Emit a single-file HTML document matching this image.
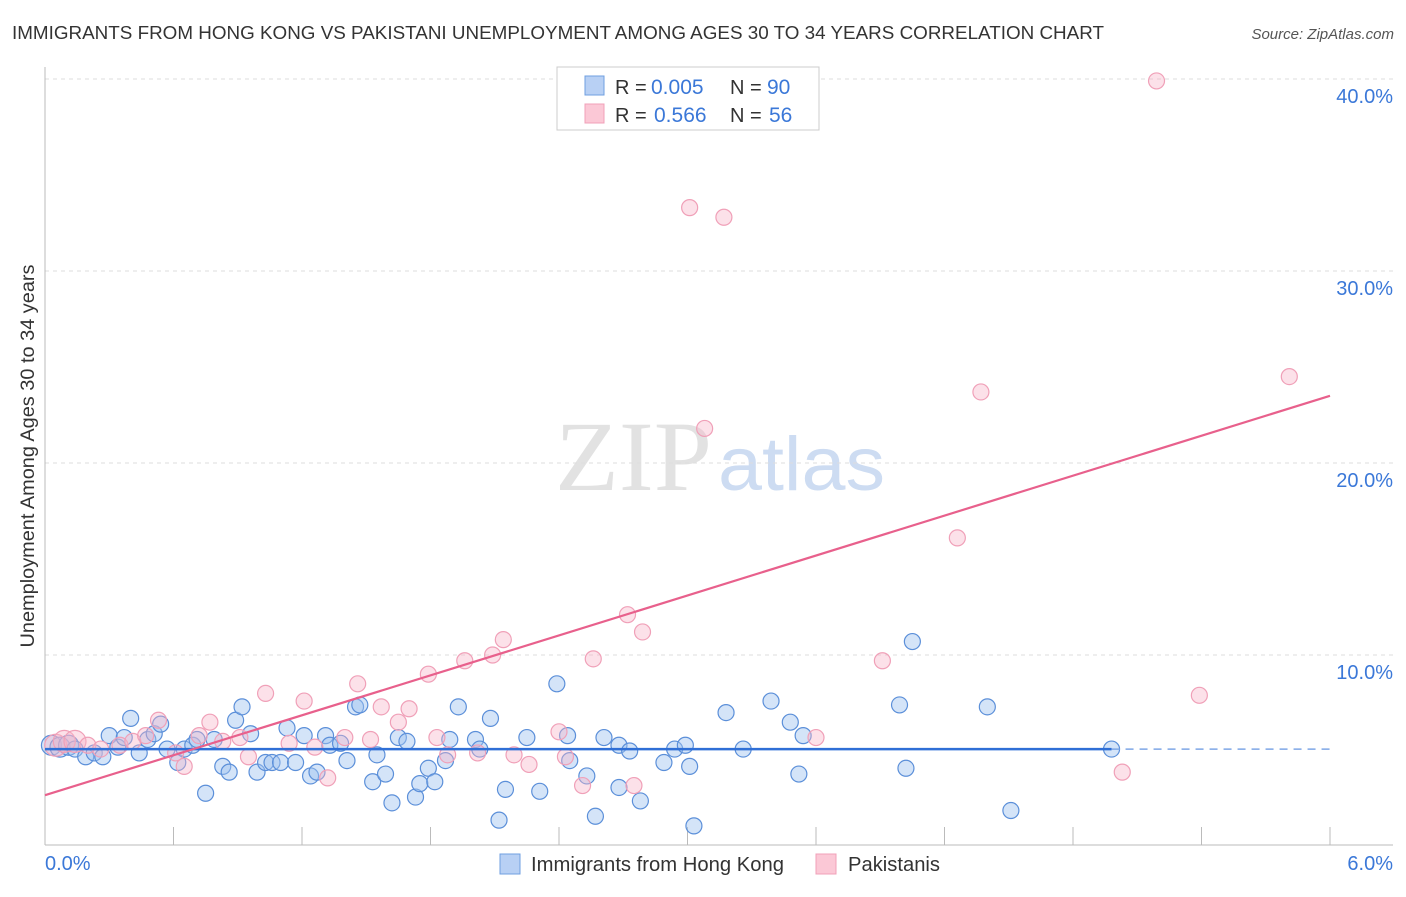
<!DOCTYPE html>
<html><head><meta charset="utf-8"><style>
body{margin:0;background:#fff;width:1406px;height:892px;overflow:hidden;font-family:"Liberation Sans",sans-serif;}
</style></head><body>
<svg id="chart" width="1406" height="892" xmlns="http://www.w3.org/2000/svg" font-family="Liberation Sans, sans-serif">
<text x="12" y="39" font-size="18.5" fill="#333" textLength="1092" lengthAdjust="spacingAndGlyphs">IMMIGRANTS FROM HONG KONG VS PAKISTANI UNEMPLOYMENT AMONG AGES 30 TO 34 YEARS CORRELATION CHART</text>
<text x="1394" y="39" font-size="15" fill="#555" text-anchor="end" font-style="italic">Source: ZipAtlas.com</text>
<g>
<text x="555" y="490" font-size="100" fill="#e2e2e2" font-family="Liberation Serif, serif" textLength="157" lengthAdjust="spacingAndGlyphs">ZIP</text>
<text x="718" y="490" font-size="76" fill="#cddcf2" textLength="167" lengthAdjust="spacingAndGlyphs">atlas</text>
</g>
<g id="grid"></g>
<g id="axes"></g>
<g id="points"></g>
<g id="lines"></g>
<text transform="translate(34,456) rotate(-90)" font-size="19" fill="#333" text-anchor="middle" textLength="383" lengthAdjust="spacingAndGlyphs">Unemployment Among Ages 30 to 34 years</text>
<g>
<rect x="557" y="67" width="262" height="63" fill="#fff" stroke="#ccc"/>
<rect x="585" y="76" width="19" height="19" fill="#b8d0f4" stroke="#6f9fe0"/>
<rect x="585" y="104" width="19" height="19" fill="#fbc8d6" stroke="#f0a0b8"/>
<text x="615" y="94" font-size="20" fill="#333">R = </text><text x="651" y="94" font-size="21" fill="#3b78d8">0.005</text>
<text x="730" y="94" font-size="20" fill="#333">N = </text><text x="767" y="94" font-size="21" fill="#3b78d8">90</text>
<text x="615" y="122" font-size="20" fill="#333">R = </text><text x="654" y="122" font-size="21" fill="#3b78d8">0.566</text>
<text x="730" y="122" font-size="20" fill="#333">N = </text><text x="769" y="122" font-size="21" fill="#3b78d8">56</text>
</g>
<g>
<rect x="500" y="854" width="20" height="20" fill="#b8d0f4" stroke="#6f9fe0"/>
<text x="531" y="871" font-size="20" fill="#333" textLength="253" lengthAdjust="spacingAndGlyphs">Immigrants from Hong Kong</text>
<rect x="816" y="854" width="20" height="20" fill="#fbc8d6" stroke="#f0a0b8"/>
<text x="848" y="871" font-size="20" fill="#333" textLength="92" lengthAdjust="spacingAndGlyphs">Pakistanis</text>
</g>
</svg>
<script>
const xTicks=[0,0.6,1.2,1.8,2.4,3.0,3.6,4.2,4.8,5.4,6.0];
const yTicks=[10,20,30,40];
const yTickLabels=["10.0%","20.0%","30.0%","40.0%"];
const xEndLabels=["0.0%","6.0%"];
const hkX=[0.03,0.07,0.11,0.14,0.19,0.23,0.27,0.30,0.34,0.37,0.40,0.44,0.48,0.51,0.54,0.57,0.62,0.65,0.69,0.71,0.75,0.79,0.83,0.86,0.89,0.92,0.96,0.99,1.03,1.06,1.10,1.13,1.17,1.21,1.24,1.27,1.31,1.33,1.38,1.41,1.45,1.47,1.53,1.55,1.59,1.62,1.65,1.69,1.73,1.75,1.79,1.82,1.87,1.89,1.93,2.01,2.03,2.08,2.12,2.15,2.25,2.31,2.39,2.44,2.45,2.53,2.57,2.61,2.68,2.68,2.73,2.78,2.89,2.94,2.99,3.01,3.03,3.18,3.26,3.39,3.48,3.52,3.54,3.99,4.02,4.05,4.40,4.51,4.98];
const hkY=[5.3,5.2,5.3,5.1,4.7,4.9,4.7,5.8,5.2,5.7,6.7,4.9,5.6,5.9,6.4,5.1,4.4,5.1,5.3,5.6,2.8,5.6,4.2,3.9,6.6,7.3,5.9,3.9,4.4,4.4,4.4,6.2,4.4,5.8,3.7,3.9,5.8,5.3,5.4,4.5,7.3,7.4,3.4,4.8,3.8,2.3,5.7,5.5,2.6,3.3,4.1,3.4,4.5,5.6,7.3,5.6,5.1,6.7,1.4,3.0,5.7,2.9,8.5,5.8,4.5,3.7,1.6,5.7,5.3,3.1,5.0,2.4,4.4,5.1,5.3,4.2,1.1,7.0,5.1,7.6,6.5,3.8,5.8,7.4,4.1,10.7,7.3,1.9,5.1];
const pkX=[0.05,0.09,0.14,0.20,0.26,0.35,0.41,0.47,0.53,0.61,0.65,0.72,0.77,0.83,0.91,0.95,1.03,1.14,1.21,1.26,1.32,1.40,1.46,1.52,1.57,1.65,1.70,1.79,1.83,1.88,1.96,2.02,2.09,2.14,2.19,2.26,2.40,2.43,2.51,2.56,2.72,2.79,3.01,3.08,3.17,3.34,3.60,3.91,4.26,4.37,5.03,5.19,5.39,5.81,2.75];
const pkY=[5.3,5.5,5.5,5.3,5.1,5.3,5.5,5.8,6.6,4.9,4.2,5.8,6.5,5.5,5.7,4.7,8.0,5.4,7.6,5.2,3.6,5.7,8.5,5.6,7.3,6.5,7.2,9.0,5.7,4.8,9.7,4.9,10.0,10.8,4.8,4.3,6.0,4.7,3.2,9.8,12.1,11.2,33.3,21.8,32.8,39.9,5.7,9.7,16.1,23.7,3.9,39.9,7.9,24.5,3.2];
const hkTrend=[5.1,5.1];const hkTrendX=[0,4.98,6.0];
const pkTrend=[2.7,23.5];

const NS="http://www.w3.org/2000/svg";
const X0=45,X1=1330,Y0=847,PY=19.2;
const sx=v=>X0+v/6*(X1-X0);
const sy=v=>Y0-v*PY;
function mk(tag,attrs,parent){const e=document.createElementNS(NS,tag);for(const k in attrs)e.setAttribute(k,attrs[k]);parent.appendChild(e);return e;}
const grid=document.getElementById('grid'),axes=document.getElementById('axes'),pts=document.getElementById('points'),lines=document.getElementById('lines');
yTicks.forEach((t,i)=>{
 const g=mk('line',{x1:45,x2:1393,y1:sy(t),y2:sy(t),stroke:'#ddd','stroke-dasharray':'4,4'},grid);
 
 
 const tx=mk('text',{x:1393,y:sy(t)+24,'font-size':20,fill:'#3b78d8','text-anchor':'end'},axes);
 tx.textContent=yTickLabels[i];
 
 
});
const yax=mk('line',{x1:45,x2:45,y1:67,y2:845,stroke:'#bbb'},axes);


const xax=mk('line',{x1:45,x2:1393,y1:845,y2:845,stroke:'#bbb'},axes);


xTicks.forEach(t=>{
 const l=mk('line',{x1:sx(t),x2:sx(t),y1:827,y2:845,stroke:'#bbb'},axes);
 
 
});
const xl0=mk('text',{x:45,y:870,'font-size':20,fill:'#3b78d8'},axes);xl0.textContent=xEndLabels[0];


const xl1=mk('text',{x:1393,y:870,'font-size':20,fill:'#3b78d8','text-anchor':'end'},axes);xl1.textContent=xEndLabels[1];


hkX.forEach((x,i)=>{
 const c=mk('circle',{cx:sx(x),cy:sy(hkY[i]),r:i<3?10:8,fill:'rgba(160,196,240,0.45)',stroke:'#5b8fd9','stroke-width':1.2},pts);
 
 
});
pkX.forEach((x,i)=>{
 const c=mk('circle',{cx:sx(x),cy:sy(pkY[i]),r:i<3?11:8,fill:'rgba(248,180,200,0.4)',stroke:'#f0a0b8','stroke-width':1.2},pts);
 
 
});
const bl=mk('line',{x1:sx(hkTrendX[0]),x2:sx(hkTrendX[1]),y1:sy(hkTrend[0]),y2:sy(hkTrend[1]),stroke:'#2f6fd6','stroke-width':2.5},lines);


const bd=mk('line',{x1:sx(hkTrendX[1]),x2:sx(hkTrendX[2]),y1:sy(hkTrend[1]),y2:sy(hkTrend[1]),stroke:'#7ea6e6','stroke-width':1.5,'stroke-dasharray':'8,6'},lines);


const pl=mk('line',{x1:sx(0),x2:sx(6),y1:sy(pkTrend[0]),y2:sy(pkTrend[1]),stroke:'#e8608c','stroke-width':2.2},lines);


</script>
</body></html>
